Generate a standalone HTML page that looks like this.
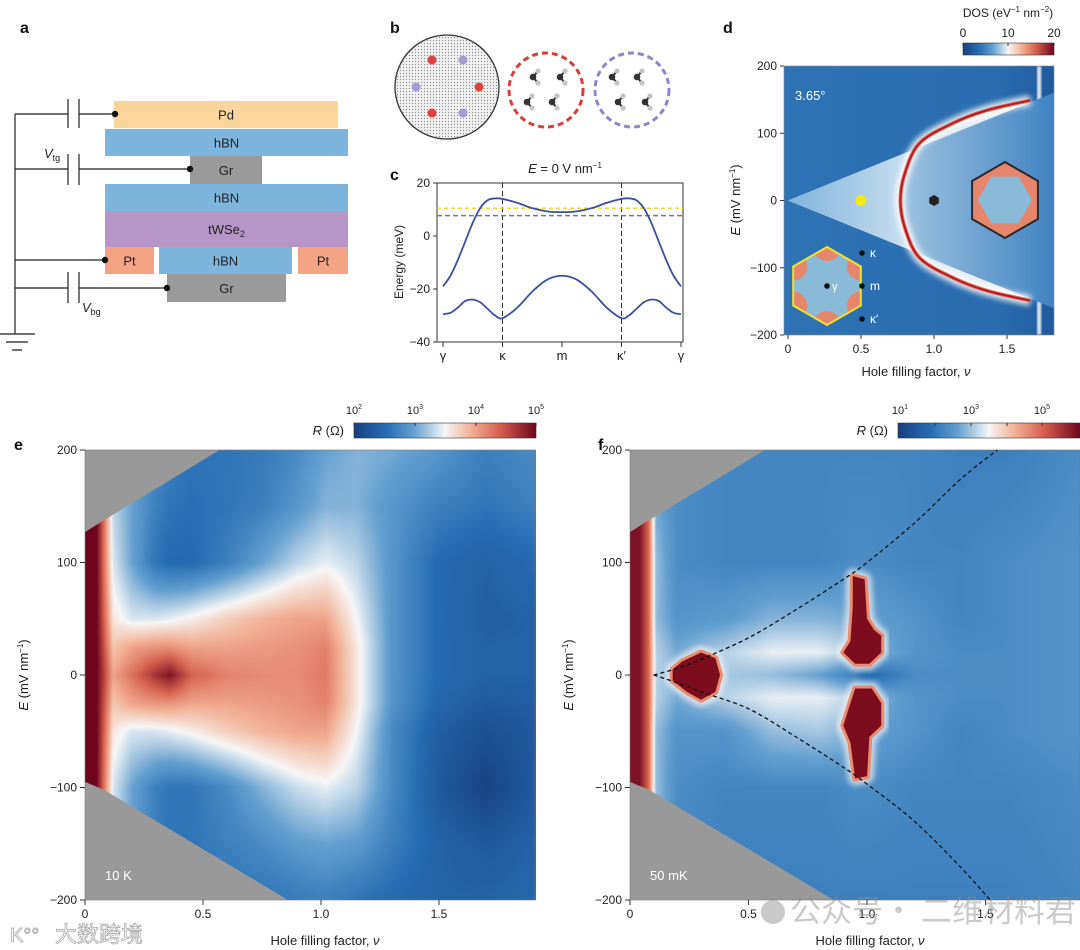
<!DOCTYPE html>
<html><head><meta charset="utf-8">
<style>
html,body{margin:0;padding:0;background:#fff;}
#root{position:relative;width:1080px;height:950px;overflow:hidden;font-family:"Liberation Sans","Noto Sans CJK SC",sans-serif;}
canvas{position:absolute;}
svg{position:absolute;left:0;top:0;}
</style></head>
<body>
<div id="root">
<canvas id="cvE" width="451" height="450" style="left:85px;top:450px"></canvas>
<canvas id="cvF" width="450" height="450" style="left:630px;top:450px"></canvas>
<svg id="sv" width="1080" height="950" font-family="Liberation Sans, sans-serif"></svg>
</div>
<script>
// ---------- DATA ----------
// panel c band structure (k index 0..4 : γ κ m κ' γ)
const bandK=[0,0.125,0.25,0.375,0.5,0.625,0.75,0.875,1,1.25,1.5,1.75,2,2.25,2.5,2.75,3,3.125,3.25,3.375,3.5,3.625,3.75,3.875,4];
const upperBand=[-19,-15,-9,-2,5,10.5,13.5,14.2,14,12.5,10.5,9.3,9,9.3,10.5,12.5,14,14.2,13.5,10.5,5,-2,-9,-15,-19];
const lowerBand=[-29.5,-29,-27,-24.5,-24,-25,-27.5,-30,-31,-27,-21,-16.5,-15,-16.5,-21,-27,-31,-30,-27.5,-25,-24,-24.5,-27,-29,-29.5];
const cLevels=[10.5,7.7];
const cTicksY=[20,0,-20,-40];
const cTickK=["γ","κ","m","κ′","γ"];
// panel d
const dCurveNu=[1.66,1.36,1.13,0.9,0.8,0.77,0.8,0.9,1.13,1.36,1.66];
const dCurveE=[149,134,115,85,40,0,-40,-85,-115,-134,-149];
const dWedgeSlope=[88];
const dTicksX=[0,0.5,1.0,1.5];
const dTicksY=[200,100,0,-100,-200];
// panel e (log10 R)
const eNu=[0,0.05,0.08,0.12,0.2,0.3,0.36,0.45,0.6,0.75,0.9,1.02,1.15,1.3,1.5,1.7,1.9];
const eE=[200,150,100,50,25,0,-25,-50,-100,-150,-200];
const eVals=[
[5,5,4.3,3.2,3.0,2.8,2.7,2.6,2.6,2.65,2.8,3.0,3.1,3.05,2.9,2.7,2.8],
[5,5,4.3,3.3,3.0,2.7,2.6,2.55,2.6,2.7,2.9,3.1,3.1,2.9,2.7,2.6,2.7],
[5,5,4.3,3.4,3.0,2.6,2.5,2.5,2.7,3.0,3.3,3.45,3.3,2.9,2.5,2.4,2.5],
[5,5,4.4,3.6,3.4,3.4,3.45,3.55,3.75,3.9,4.0,4.0,3.5,2.9,2.5,2.35,2.4],
[5,5,4.5,3.8,4.0,4.1,4.1,4.0,4.0,4.05,4.1,4.2,3.6,2.9,2.5,2.4,2.4],
[5,5,4.6,4.0,4.3,4.7,4.9,4.4,4.2,4.15,4.15,4.25,3.6,2.9,2.5,2.4,2.4],
[5,5,4.5,3.8,4.0,4.1,4.1,4.0,4.0,4.05,4.1,4.2,3.6,2.9,2.45,2.3,2.35],
[5,5,4.4,3.6,3.4,3.4,3.45,3.55,3.75,3.9,4.0,4.0,3.5,2.8,2.35,2.2,2.3],
[5,5,4.3,3.4,3.0,2.7,2.6,2.6,2.8,3.1,3.35,3.45,3.3,2.8,2.3,2.05,2.3],
[5,5,4.3,3.3,3.0,2.7,2.6,2.6,2.7,2.8,2.95,3.0,2.95,2.7,2.4,2.3,2.4],
[5,5,4.3,3.2,2.9,2.7,2.6,2.6,2.6,2.6,2.65,2.7,2.6,2.5,2.4,2.4,2.45]];
// panel f (log10 R)
const fNu=[0,0.04,0.08,0.11,0.2,0.4,0.6,0.8,0.95,1.0,1.2,1.4,1.6,1.9];
const fE=[200,100,50,20,0,-20,-50,-100,-200];
const fVals=[
[6,6,5,2.6,2.4,2.3,2.3,2.3,2.3,2.3,2.3,2.2,2.2,2.4],
[6,6,5,3.0,2.4,2.3,2.3,2.3,2.4,2.4,2.3,2.3,2.4,2.5],
[6,6,5,3.0,2.5,2.6,2.9,2.9,2.8,2.7,2.5,2.3,2.4,2.5],
[6,6,5,3.2,2.8,3.2,3.5,3.5,3.2,3.0,2.5,2.4,2.4,2.5],
[6,6,5,3.2,3.0,3.1,3.0,2.7,2.2,1.8,2.4,2.4,2.4,2.5],
[6,6,5,3.2,2.8,3.2,3.5,3.5,3.2,3.0,2.5,2.4,2.4,2.5],
[6,6,5,3.0,2.5,2.5,3.0,3.1,2.9,2.7,2.5,2.3,2.4,2.5],
[6,6,5,3.0,2.4,2.3,2.3,2.3,2.4,2.4,2.3,2.3,2.3,2.4],
[6,6,5,2.8,2.3,2.2,2.2,2.2,2.2,2.2,2.2,2.2,2.2,2.3]];
const fDashUpNu=[0.1,0.2,0.3,0.5,0.7,0.9,1.0,1.2,1.4,1.55];
const fDashUpE=[0,6,14,33,58,85,100,135,175,200];
const fDashLoNu=[0.1,0.2,0.3,0.5,0.7,0.9,1.0,1.2,1.4,1.52];
const fDashLoE=[0,-7,-15,-30,-55,-82,-97,-130,-172,-200];
const blob1Nu=[0.18,0.22,0.3,0.36,0.38,0.36,0.3,0.24,0.18];
const blob1E=[5,12,20,15,0,-15,-22,-15,-5];
const blob2Nu=[0.94,0.99,1.0,1.03,1.06,1.06,1.01,0.95,0.9,0.93,0.94];
const blob2E=[88,85,50,40,35,20,10,10,20,30,60];
const blob3Nu=[0.95,1.02,1.06,1.06,1.01,1.0,0.95,0.93,0.9,0.93];
const blob3E=[-12,-12,-25,-45,-55,-90,-92,-60,-45,-25];
const grayTopNu=[0,0.06,0.57];
const grayTopE=[127,135,200];
const grayBotNu=[0,0.08,0.86];
const grayBotE=[-95,-102,-200];
const heatTicksX=[0,0.5,1.0,1.5];
const heatTicksY=[200,100,0,-100,-200];

// ---------- helpers ----------
const NS="http://www.w3.org/2000/svg";
const sv=document.getElementById('sv');
function mk(tag,attrs,parent){const el=document.createElementNS(NS,tag);for(const k in attrs)el.setAttribute(k,attrs[k]);(parent||sv).appendChild(el);return el;}
function txt(x,y,s,size,anchor,extra,parent){const t=mk('text',Object.assign({x:x,y:y,'font-size':size,'text-anchor':anchor||'middle',fill:'#222'},extra||{}),parent);t.innerHTML=s;return t;}
const stops=[[0,[22,64,128]],[0.18,[40,110,178]],[0.33,[100,160,208]],[0.5,[246,246,246]],[0.64,[242,178,150]],[0.8,[214,96,77]],[1,[110,4,30]]];
function cmap(t){t=Math.max(0,Math.min(1,t));for(let i=0;i<stops.length-1;i++){const a=stops[i],b=stops[i+1];if(t<=b[0]){const f=(t-a[0])/(b[0]-a[0]);return [0,1,2].map(j=>Math.round(a[1][j]+f*(b[1][j]-a[1][j])));}}return stops[stops.length-1][1];}
function findIdx(arr,v,desc){for(let i=0;i<arr.length-1;i++){const lo=desc?arr[i+1]:arr[i],hi=desc?arr[i]:arr[i+1];if(v>=lo&&v<=hi)return i;}return (desc?(v>arr[0]?0:arr.length-2):(v<arr[0]?0:arr.length-2));}
function bil(xs,ys,vals,x,y){const i=findIdx(xs,x,false),j=findIdx(ys,y,true);let fx=(x-xs[i])/(xs[i+1]-xs[i]),fy=(ys[j]-y)/(ys[j]-ys[j+1]);fx=Math.max(0,Math.min(1,fx));fy=Math.max(0,Math.min(1,fy));const a=vals[j][i],b=vals[j][i+1],c=vals[j+1][i],d=vals[j+1][i+1];return a*(1-fx)*(1-fy)+b*fx*(1-fy)+c*(1-fx)*fy+d*fx*fy;}
function drawHeat(id,xs,ys,vals,nuPerPx,vmin,vmax){const cv=document.getElementById(id),ctx=cv.getContext('2d');const W=cv.width,H=cv.height;const img=ctx.createImageData(W,H);for(let py=0;py<H;py++){const E=200-(py+0.5)*400/H;for(let px=0;px<W;px++){const nu=(px+0.5)*nuPerPx;const v=bil(xs,ys,vals,nu,E);const c=cmap((v-vmin)/(vmax-vmin));const k=(py*W+px)*4;img.data[k]=c[0];img.data[k+1]=c[1];img.data[k+2]=c[2];img.data[k+3]=255;}}ctx.putImageData(img,0,0);}
function smoothPath(pts){let d='M'+pts[0][0]+','+pts[0][1];for(let i=0;i<pts.length-1;i++){const p0=pts[Math.max(0,i-1)],p1=pts[i],p2=pts[i+1],p3=pts[Math.min(pts.length-1,i+2)];const c1=[p1[0]+(p2[0]-p0[0])/6,p1[1]+(p2[1]-p0[1])/6],c2=[p2[0]-(p3[0]-p1[0])/6,p2[1]-(p3[1]-p1[1])/6];d+=' C'+c1.join(',')+' '+c2.join(',')+' '+p2.join(',');}return d;}
function poly(pts){return pts.map(p=>p.join(',')).join(' ');}

// defs
const defs=mk('defs',{});
function grad(id,cols,x2,y2){const g=mk('linearGradient',{id:id,x1:0,y1:0,x2:x2===undefined?1:x2,y2:y2||0},defs);cols.forEach(c=>mk('stop',{offset:c[0],'stop-color':c[1]},g));}
grad('gRdBu',[[0,'rgb(22,64,128)'],[0.18,'rgb(40,110,178)'],[0.33,'rgb(100,160,208)'],[0.5,'rgb(246,246,246)'],[0.64,'rgb(242,178,150)'],[0.8,'rgb(214,96,77)'],[1,'rgb(110,4,30)']]);
grad('gDbg',[[0,'#2f73b4'],[0.8,'#2a6cae'],[1,'#1f5a9c']]);
grad('gWedgeL',[[0,'#7fb3db'],[0.6,'#d9e8f3'],[1,'#f4f6f8']]);
grad('gWedgeR',[[0,'#e4eef6'],[0.35,'#a9cbe5'],[1,'#3f82c0']]);
const blur=mk('filter',{id:'blur3',x:'-20%',y:'-20%',width:'140%',height:'140%'},defs);mk('feGaussianBlur',{stdDeviation:3},blur);
const blur1=mk('filter',{id:'blur1'},defs);mk('feGaussianBlur',{stdDeviation:1.2},blur1);

// ---------- panel labels ----------
[['a',20,33],['b',390,33],['c',390,180],['d',723,33],['e',14,450],['f',598,450]].forEach(l=>{const t=txt(l[1],l[2],l[0],16,'start',{'font-weight':'bold',fill:'#111'});});

// ---------- panel a ----------
const ga=mk('g',{});
const layers=[['Pd',114,101,224,27,'#fbd59c','pd-layer'],['hBN',105,129,243,27,'#7db5dc','hbn-top-layer'],['Gr',190,156,72,28,'#9a9a9a','gr-top-layer'],['hBN',105,184,243,27,'#7db5dc','hbn-mid-layer'],['tWSe<tspan font-size="9" dy="3">2</tspan>',105,211,243,36,'#b596c7','twse2-layer'],['Pt',105,247,49,27,'#f2a485','pt-left'],['hBN',159,247,133,27,'#7db5dc','hbn-bottom-layer'],['Pt',298,247,50,27,'#f2a485','pt-right'],['Gr',167,274,119,28,'#9a9a9a','gr-bottom-layer']];
layers.forEach(L=>{const r=mk('rect',{x:L[1],y:L[2],width:L[3],height:L[4],fill:L[5]},ga);txt(L[1]+L[3]/2,L[2]+L[4]/2+5,L[0],13,'middle',{fill:'#222'},ga);});
const wire={stroke:'#222','stroke-width':1.2,fill:'none'};
mk('path',Object.assign({d:'M15,114 V334'},wire),ga);
[[114,115,99,128],[169,190,154,185],[288,167,272,303]].forEach(c=>{mk('path',Object.assign({d:`M15,${c[0]} H68 M79,${c[0]} H${c[1]} M68,${c[2]} V${c[3]} M79,${c[2]} V${c[3]}`},wire),ga);mk('circle',{cx:c[1],cy:c[0],r:3.2,fill:'#111'},ga);});
mk('path',Object.assign({d:'M15,260 H104'},wire),ga);mk('circle',{cx:105,cy:260,r:3.2,fill:'#111'},ga);
mk('path',Object.assign({d:'M0,334 H35 M6,342 H28 M12,350 H22'},wire),ga);
txt(44,158,'<tspan font-style="italic">V</tspan><tspan font-size="9" dy="3">tg</tspan>',13,'start',{},ga);
txt(82,312,'<tspan font-style="italic">V</tspan><tspan font-size="9" dy="3">bg</tspan>',13,'start',{},ga);

// ---------- panel b ----------
const gb=mk('g',{});
const pat=mk('pattern',{id:'dots',width:3,height:3,patternUnits:'userSpaceOnUse'},defs);mk('circle',{cx:1.5,cy:1.5,r:0.6,fill:'#888'},pat);
mk('circle',{cx:447,cy:87,r:52,fill:'#f0f0f0',stroke:'#333','stroke-width':1.3},gb);
mk('circle',{cx:447,cy:87,r:51,fill:'url(#dots)'},gb);
[[432,60,'#e0413f'],[479,87,'#e0413f'],[432,113,'#e0413f'],[463,60,'#a79ad0'],[416,87,'#a79ad0'],[463,113,'#a79ad0']].forEach(d=>mk('circle',{cx:d[0],cy:d[1],r:4.5,fill:d[2]},gb));
mk('circle',{cx:546,cy:90,r:37,fill:'none',stroke:'#de3b3b','stroke-width':3,'stroke-dasharray':'6,4'},gb);
mk('circle',{cx:632,cy:90,r:37,fill:'none',stroke:'#8d86c8','stroke-width':3,'stroke-dasharray':'6,4'},gb);
function molecule(x,y,dir){mk('line',{x1:x,y1:y,x2:x+5*dir,y2:y-6,stroke:'#333','stroke-width':2},gb);mk('line',{x1:x,y1:y,x2:x+5*dir,y2:y+6,stroke:'#333','stroke-width':2},gb);mk('circle',{cx:x+5*dir,cy:y-6,r:2.6,fill:'#c4c4c4'},gb);mk('circle',{cx:x+5*dir,cy:y+6,r:2.6,fill:'#c4c4c4'},gb);mk('circle',{cx:x,cy:y,r:3.3,fill:'#333'},gb);}
[[533,77],[560,77],[527,102],[552,102],[612,77],[637,77],[618,102],[645,102]].forEach(m=>molecule(m[0],m[1],1));

// ---------- panel c ----------
const gc=mk('g',{});
const cx0=443,cdx=59.5,cy0=183,cyS=(342-183)/60;
const xC=k=>cx0+k*cdx, yC=v=>cy0+(20-v)*cyS;
mk('rect',{x:437,y:183,width:246,height:159,fill:'none',stroke:'#333','stroke-width':1},gc);
[1,3].forEach(k=>mk('line',{x1:xC(k),y1:183,x2:xC(k),y2:342,stroke:'#333','stroke-width':1,'stroke-dasharray':'5,3'},gc));
mk('line',{x1:437,y1:yC(cLevels[0]),x2:683,y2:yC(cLevels[0]),stroke:'#f0d020','stroke-width':1.3,'stroke-dasharray':'4,3',},gc);
mk('line',{x1:437,y1:yC(cLevels[1]),x2:683,y2:yC(cLevels[1]),stroke:'#777','stroke-width':1.5,'stroke-dasharray':'5,3',},gc);
const up=mk('path',{d:smoothPath(bandK.map((k,i)=>[xC(k),yC(upperBand[i])])),fill:'none',stroke:'#3a50a0','stroke-width':1.8},gc);

const lo=mk('path',{d:smoothPath(bandK.map((k,i)=>[xC(k),yC(lowerBand[i])])),fill:'none',stroke:'#3a50a0','stroke-width':1.8},gc);

cTicksY.forEach(v=>{mk('line',{x1:433,y1:yC(v),x2:437,y2:yC(v),stroke:'#333'},gc);txt(430,yC(v)+4,v<0?'−'+(-v):''+v,12,'end',{},gc);});
cTickK.forEach((s,k)=>{mk('line',{x1:xC(k),y1:342,x2:xC(k),y2:347,stroke:'#333'},gc);txt(xC(k),360,s,13,'middle',{},gc);});
txt(403,262,'Energy (meV)',12,'middle',{transform:'rotate(-90 403 262)'},gc);
txt(565,173,'<tspan font-style="italic">E</tspan> = 0 V nm<tspan font-size="8" dy="-5">−1</tspan>',13,'middle',{},gc);

// ---------- panel d ----------
const gd=mk('g',{});
const xD=nu=>788+nu*146, yD=E=>200.5-E*0.6725;
const cp=mk('clipPath',{id:'clipD'},defs);mk('rect',{x:784,y:66,width:270,height:269},cp);
const gdc=mk('g',{'clip-path':'url(#clipD)'},gd);
mk('rect',{x:784,y:66,width:270,height:269,fill:'url(#gDbg)'},gdc);
const nuMaxD=1.84;
// vertical white bright line
mk('rect',{x:xD(1.72)-2,y:66,width:4,height:269,fill:'#e8f2f8',filter:'url(#blur1)'},gdc);
const wedge=[[xD(0),yD(0)],[xD(nuMaxD),yD(dWedgeSlope[0]*nuMaxD)],[xD(nuMaxD),yD(-dWedgeSlope[0]*nuMaxD)]];
mk('polygon',{points:poly(wedge),fill:'url(#gWedgeR)',},gdc);
// left of curve region
const curvePts=dCurveNu.map((n,i)=>[xD(n),yD(dCurveE[i])]);
const leftPts=[[xD(0),yD(0)],[xD(1.66*1),yD(dWedgeSlope[0]*1.66)]].concat(curvePts).concat([[xD(1.66),yD(-dWedgeSlope[0]*1.66)]]);
mk('polygon',{points:poly(leftPts),fill:'url(#gWedgeL)'},gdc);
const curveD=smoothPath(curvePts);
mk('path',{d:curveD,fill:'none',stroke:'#ffffff','stroke-width':10,filter:'url(#blur3)',opacity:0.9},gdc);
mk('path',{d:curveD,fill:'none',stroke:'#e8785c','stroke-width':4},gdc);
const cr=mk('path',{d:curveD,fill:'none',stroke:'#b01c2c','stroke-width':2},gdc);

mk('circle',{cx:xD(0.5),cy:yD(0),r:5.5,fill:'#f5e71a',},gd);
function hexPts(cx,cy,r,rot){const p=[];for(let i=0;i<6;i++){const a=(rot+60*i)*Math.PI/180;p.push([+(cx+r*Math.cos(a)).toFixed(1),+(cy+r*Math.sin(a)).toFixed(1)]);}return p;}
mk('polygon',{points:poly(hexPts(xD(1.0),yD(0),5.5,30)),fill:'#222',},gd);
// right hexagon inset
mk('polygon',{points:poly(hexPts(1005,200,38,-90)),fill:'#e5866c',stroke:'#2a2a2a','stroke-width':2,},gd);
mk('polygon',{points:poly(hexPts(1005,200,27,0)),fill:'#89bbd9'},gd);
// left-bottom inset
const ginset=mk('g',{},gd);
const cpH=mk('clipPath',{id:'clipHex'},defs);mk('polygon',{points:poly(hexPts(827,286,39,-90))},cpH);
const gh=mk('g',{'clip-path':'url(#clipHex)'},ginset);
mk('rect',{x:780,y:240,width:100,height:100,fill:'#89bbd9'},gh);
hexPts(827,286,39,-90).forEach(p=>mk('circle',{cx:p[0],cy:p[1],r:14,fill:'#e5866c'},gh));
mk('polygon',{points:poly(hexPts(827,286,39,-90)),fill:'none',stroke:'#f0e030','stroke-width':2},ginset);
mk('circle',{cx:827,cy:286,r:2.8,fill:'#111'},ginset);
[[253,'κ'],[286,'m'],[319,'κ′']].forEach(p=>{mk('circle',{cx:862,cy:p[0],r:2.8,fill:'#111'},ginset);txt(870,p[0]+4,p[1],12,'start',{fill:'#fff'},ginset);});
txt(832,290,'γ',11,'start',{fill:'#fff'},ginset);
txt(795,100,'3.65°',13,'start',{fill:'#fff'},gd);
mk('rect',{x:784,y:66,width:270,height:269,fill:'none',stroke:'#888','stroke-width':0.6},gd);
dTicksX.forEach(v=>{mk('line',{x1:xD(v),y1:335,x2:xD(v),y2:339,stroke:'#333'},gd);txt(xD(v),353,v===0?'0':v.toFixed(1),12,'middle',{},gd);});
dTicksY.forEach(v=>{mk('line',{x1:780,y1:yD(v),x2:784,y2:yD(v),stroke:'#333'},gd);txt(777,yD(v)+4,v<0?'−'+(-v):''+v,12,'end',{},gd);});
txt(916,376,'Hole filling factor, <tspan font-style="italic">ν</tspan>',13,'middle',{},gd);
txt(740,200,'<tspan font-style="italic">E</tspan> (mV nm<tspan font-size="8" dy="-5">−1</tspan><tspan dy="5">)</tspan>',13,'middle',{transform:'rotate(-90 740 200)'},gd);
// colorbar d
const gcb=mk('g',{},gd);
mk('rect',{x:963,y:43,width:91,height:12,fill:'url(#gRdBu)',stroke:'#333','stroke-width':0.6},gcb);
[[963,'0'],[1008,'10'],[1054,'20']].forEach(t=>{mk('line',{x1:t[0],y1:43,x2:t[0],y2:46,stroke:'#333'},gcb);txt(t[0],37,t[1],12,'middle',{},gcb);});
txt(1008,17,'DOS (eV<tspan font-size="8" dy="-5">−1</tspan><tspan dy="5"> nm</tspan><tspan font-size="8" dy="-5">−2</tspan><tspan dy="5">)</tspan>',12,'middle',{},gcb);

// ---------- panels e & f ----------
drawHeat('cvE',eNu,eE,eVals,1/236,2,5);
drawHeat('cvF',fNu,fE,fVals,1/237,1,6.15);
function heatAxes(x0,pxPerNu,name,cbX,cbW,cbTicks,temp){
  const g=mk('g',{});
  const X=nu=>x0+nu*pxPerNu, Y=E=>675-E*1.125;
  const top=[[X(0),450]].concat(grayTopNu.map((n,i)=>[X(n),Y(grayTopE[i])]));
  mk('polygon',{points:poly(top),fill:'#999999',},g);
  const bot=[[X(0),900]].concat(grayBotNu.map((n,i)=>[X(n),Y(grayBotE[i])]));
  mk('polygon',{points:poly(bot),fill:'#999999',},g);
  mk('rect',{x:x0,y:450,width:450,height:450,fill:'none',stroke:'#777','stroke-width':0.6},g);
  heatTicksX.forEach(v=>{mk('line',{x1:X(v),y1:900,x2:X(v),y2:905,stroke:'#333'},g);txt(X(v),918,v===0?'0':v.toFixed(1),12,'middle',{},g);});
  heatTicksY.forEach(v=>{mk('line',{x1:x0-5,y1:Y(v),x2:x0,y2:Y(v),stroke:'#333'},g);txt(x0-8,Y(v)+4,v<0?'−'+(-v):''+v,12,'end',{},g);});
  txt(x0+240,945,'Hole filling factor, <tspan font-style="italic">ν</tspan>',13,'middle',{},g);
  const yx=x0-57;
  txt(yx,675,'<tspan font-style="italic">E</tspan> (mV nm<tspan font-size="8" dy="-5">−1</tspan><tspan dy="5">)</tspan>',13,'middle',{transform:`rotate(-90 ${yx} 675)`},g);
  txt(x0+20,880,temp,13,'start',{fill:'#fff'},g);
  const gcb=mk('g',{},g);
  mk('rect',{x:cbX,y:423,width:cbW,height:15,fill:'url(#gRdBu)',stroke:'#333','stroke-width':0.6},gcb);
  cbTicks.forEach(t=>{mk('line',{x1:t[0],y1:423,x2:t[0],y2:426,stroke:'#333'},gcb);if(t[1])txt(t[0],414,'10<tspan font-size="7" dy="-5">'+t[1]+'</tspan>',11,'middle',{},gcb);});
  txt(cbX-10,435,'<tspan font-style="italic">R</tspan> (Ω)',13,'end',{},gcb);
  return {g:g,X:X,Y:Y};
}
heatAxes(85,236,'resistance-map-10k',354,182,[[354,'2'],[415,'3'],[476,'4'],[536,'5']],'10 K');
const F=heatAxes(630,237,'resistance-map-50mk',898,182,[[900,'1'],[935,''],[971,'3'],[1007,''],[1042,'5']],'50 mK');
// blobs & dashed curves in f
const cpF=mk('clipPath',{id:'clipF'},defs);mk('rect',{x:630,y:450,width:450,height:450},cpF);
const gf=mk('g',{'clip-path':'url(#clipF)'},F.g);
[[blob2Nu,blob2E,'gap-upper-nu1'],[blob3Nu,blob3E,'gap-lower-nu1'],[blob1Nu,blob1E,'gap-nu-quarter']].forEach(b=>{
  const pts=b[0].map((n,i)=>[F.X(n),F.Y(b[1][i])]);
  mk('polygon',{points:poly(pts),fill:'none',stroke:'#f4f4f4','stroke-width':14,'stroke-linejoin':'round',opacity:0.7,filter:'url(#blur3)'},gf);
  mk('polygon',{points:poly(pts),fill:'#e98b70',stroke:'#e98b70','stroke-width':6,'stroke-linejoin':'round'},gf);
  const p=mk('polygon',{points:poly(pts),fill:'#7d0c1f'},gf);
  
});
const dUp=mk('path',{d:smoothPath(fDashUpNu.map((n,i)=>[F.X(n),F.Y(fDashUpE[i])])),fill:'none',stroke:'#111','stroke-width':1.3,'stroke-dasharray':'4,3'},gf);

const dLo=mk('path',{d:smoothPath(fDashLoNu.map((n,i)=>[F.X(n),F.Y(fDashLoE[i])])),fill:'none',stroke:'#111','stroke-width':1.3,'stroke-dasharray':'4,3'},gf);


// watermarks
const w1=txt(790,922,'公众号· 二维材料君',31,'start',{fill:'#8a8a8a',opacity:0.45,'font-family':'Noto Sans CJK SC, sans-serif'});

mk('circle',{cx:773,cy:912,r:12,fill:'#8a8a8a',opacity:0.45,});
const w2=txt(55,942,'大数跨境',22,'start',{fill:'#fff',stroke:'#aaa','stroke-width':0.8,'font-family':'Noto Sans CJK SC, sans-serif'});

txt(10,942,'K°°',20,'start',{fill:'#fff',stroke:'#aaa','stroke-width':0.8});
</script>
</body></html>
